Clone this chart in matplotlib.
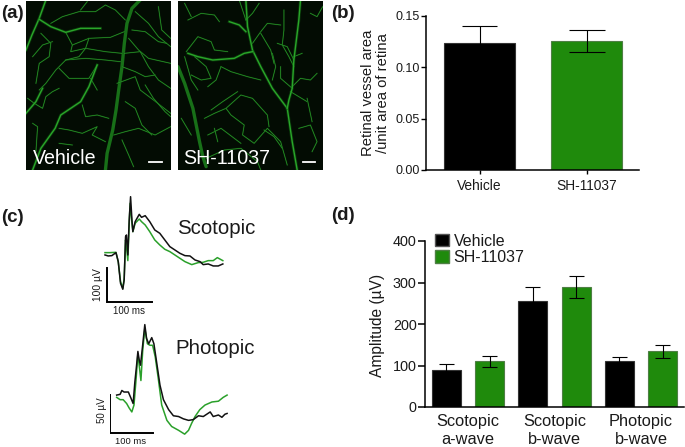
import matplotlib
matplotlib.use('Agg')
import matplotlib.pyplot as plt
from matplotlib.patches import Patch

plt.rcParams['font.family'] = ['Liberation Sans', 'DejaVu Sans']

W, H = 685, 447
GREEN = '#1f8a0c'
TXT = '#1a1a1a'

# (b) vessel area
b_names = ['Vehicle', 'SH-11037']
b_vals = [0.123, 0.1255]
b_upper = [0.140, 0.136]
b_lower = [0.106, 0.115]
b_ticks = [0.00, 0.05, 0.10, 0.15]

# (d) erg amplitudes
d_groups = ['Scotopic\na-wave', 'Scotopic\nb-wave', 'Photopic\nb-wave']
d_vehicle = [90, 255, 111]
d_vehicle_up = [103, 288, 120]
d_vehicle_lo = [77, 222, 102]
d_sh = [110, 290, 134]
d_sh_up = [122, 316, 149]
d_sh_lo = [96, 263, 117]
d_ticks = [0, 100, 200, 300, 400]

# (c) scotopic traces, ms / uV
sco_t_k = [0, 7, 15, 24, 29, 34, 39, 42, 45, 47, 50, 53, 56, 59, 61, 66, 75, 80, 88, 98, 109, 120, 131, 142, 153, 164, 175, 186, 197, 208, 215, 226, 237, 248, 258]
sco_v_k = [-5, -8, -7, 2, -25, -90, -108, -80, 50, 55, -5, 100, 170, 100, 65, 95, 117, 108, 113, 95, 70, 60, 40, 20, 10, 0, -7, -8, -20, -25, -34, -32, -38, -38, -32]
sco_t_g = [0, 11, 24, 29, 34, 39, 42, 45, 47, 50, 53, 55, 59, 61, 66, 75, 80, 88, 98, 109, 120, 131, 142, 153, 164, 175, 190, 204, 215, 226, 237, 246, 258]
sco_v_g = [2, 2, 3, -25, -85, -105, -75, 40, 20, -22, 90, 150, 90, 65, 90, 103, 95, 85, 65, 40, 25, 12, 5, -5, -15, -25, -34, -28, -27, -22, -22, -13, -22]

# (c) photopic traces
pho_t_k = [0, 8, 12, 17, 27, 33, 38, 42, 46, 49, 52, 55, 60, 65, 69, 74, 81, 86, 92, 100, 108, 120, 131, 143, 154, 166, 177, 189, 200, 216, 223, 235, 243, 250, 255]
pho_v_k = [26, 27, 32, 30, 30, 22, 15, 43, 65, 83, 72, 65, 91, 118, 100, 93, 101, 93, 70, 39, 20, 7, -1, -2, -5, -7, -6, -1, -2, 4, -2, 0, -3, 1, 2]
pho_t_g = [0, 8, 15, 23, 29, 35, 40, 45, 49, 52, 56, 60, 65, 71, 77, 83, 89, 96, 104, 116, 127, 143, 157, 166, 173, 181, 192, 204, 220, 235, 246, 255]
pho_v_g = [23, 20, 20, 15, 9, 4, 13, 48, 80, 65, 45, 83, 113, 93, 91, 91, 76, 48, 13, -7, -15, -20, -25, -20, -11, -2, 7, 13, 17, 18, 23, 26]

veh_dim = [[(345, 0), (320, 25), (305, 70), (297, 130), (290, 200), (280, 270), (272, 330), (262, 390), (245, 460), (240, 510)]]
veh_main = [[(60, 0), (40, 55), (18, 105), (0, 150)],
            [(40, 58), (75, 80), (120, 97), (165, 85), (225, 85)],
            [(0, 340), (30, 305), (50, 265)],
            [(20, 510), (45, 445), (88, 385), (105, 345), (165, 305), (190, 260), (215, 195)]]
veh_thin = [[(120, 97), (140, 135), (190, 115), (255, 112), (297, 95)],
            [(75, 70), (110, 50), (160, 35), (210, 35), (240, 15), (270, 30), (300, 60)],
            [(165, 30), (185, 5)],
            [(140, 135), (135, 155), (180, 145), (240, 155), (290, 160)],
            [(120, 180), (180, 175), (240, 180), (285, 185)],
            [(190, 115), (180, 145), (160, 170), (120, 180), (90, 210), (60, 250), (40, 270)],
            [(20, 170), (50, 135), (80, 125)],
            [(45, 100), (75, 130), (70, 170), (40, 190), (30, 250)],
            [(100, 205), (130, 235), (190, 235), (215, 195)],
            [(195, 235), (215, 270)],
            [(330, 35), (370, 70), (400, 110), (437, 140)],
            [(320, 90), (360, 95), (400, 125), (425, 130)],
            [(310, 115), (340, 150), (370, 175), (437, 190)],
            [(297, 160), (345, 155), (370, 200), (400, 240), (437, 265)],
            [(290, 200), (330, 215), (360, 230), (390, 225)],
            [(400, 20), (410, 90), (437, 115)],
            [(275, 250), (330, 230), (345, 270), (385, 300), (437, 340)],
            [(20, 370), (35, 380), (30, 455)],
            [(5, 295), (25, 310), (50, 325), (60, 290), (80, 275), (100, 265)],
            [(100, 385), (130, 390), (170, 400), (215, 380), (200, 405), (240, 425)],
            [(170, 315), (180, 350), (215, 345), (250, 355)],
            [(265, 405), (300, 395), (340, 385), (390, 405), (437, 380)],
            [(300, 305), (330, 325), (350, 375), (380, 405)],
            [(290, 420), (310, 465), (325, 500)],
            [(360, 255), (385, 295), (420, 335), (437, 350)],
            [(100, 430), (140, 435)]]

sh_dim = [[(0, 200), (20, 250), (45, 325), (65, 425), (75, 470), (85, 500)]]
sh_main = [[(205, 0), (210, 80), (225, 150), (250, 200), (285, 265), (330, 325), (345, 425), (360, 510)],
           [(225, 155), (200, 160), (170, 175), (105, 180), (60, 170), (30, 160)],
           [(370, 0), (365, 60), (350, 180), (345, 265), (335, 300), (330, 325)],
           [(155, 65), (185, 75), (205, 95)]]
sh_thin = [[(225, 130), (250, 95), (270, 70), (310, 75)],
           [(205, 60), (225, 40), (245, 10)],
           [(185, 0), (205, 60)],
           [(30, 60), (70, 40), (110, 45), (125, 65)],
           [(25, 155), (60, 110), (100, 125), (110, 150), (150, 155)],
           [(50, 170), (85, 200), (100, 235), (70, 240), (40, 225)],
           [(20, 170), (40, 240), (60, 270)],
           [(320, 30), (320, 90), (315, 135), (335, 170), (350, 200)],
           [(300, 130), (330, 140), (350, 180)],
           [(375, 160), (350, 170)],
           [(345, 260), (370, 235), (400, 240), (420, 220)],
           [(310, 200), (310, 235), (345, 265)],
           [(285, 160), (295, 200), (285, 240)],
           [(250, 100), (280, 150), (290, 190)],
           [(130, 200), (160, 215), (210, 230), (250, 240)],
           [(400, 40), (420, 50), (437, 20)],
           [(90, 260), (115, 240), (130, 200)],
           [(20, 10), (40, 50)],
           [(80, 355), (110, 340), (145, 325), (190, 285), (225, 295), (270, 345), (275, 380)],
           [(145, 325), (160, 345), (200, 375), (195, 405), (230, 430), (270, 385), (310, 425), (330, 495)],
           [(260, 390), (290, 410), (315, 445)],
           [(90, 405), (130, 385), (170, 415), (190, 430)],
           [(85, 475), (140, 450), (190, 445), (240, 485), (250, 510)],
           [(365, 385), (400, 375), (420, 425), (405, 455)],
           [(390, 295), (405, 365)],
           [(340, 275), (390, 305)],
           [(10, 355), (40, 405)],
           [(110, 385), (120, 425)],
           [(180, 275), (135, 305), (100, 330)]]


def px_axes(x0, y0, x1, y1):
    return fig.add_axes([x0 / W, 1 - y1 / H, (x1 - x0) / W, (y1 - y0) / H])


fig = plt.figure(figsize=(W / 100, H / 100), dpi=100, facecolor='white')
overlay = px_axes(0, 0, W, H)
overlay.set_xlim(0, W)
overlay.set_ylim(H, 0)
overlay.axis('off')
overlay.set_zorder(10)


def micrograph(x0, x1, dim, main, thin, label, label_x, bar):
    ax = px_axes(x0, 1, x1, 170)
    ax.set_facecolor('#030c03')
    ax.set_xlim(0, 438)
    ax.set_ylim(510, 3)
    ax.set_xticks([])
    ax.set_yticks([])
    for s in ax.spines.values():
        s.set_visible(False)
    for pts in dim:
        ax.plot(*zip(*pts), color='#187018', lw=2.4, solid_capstyle='round')
    for pts in thin:
        ax.plot(*zip(*pts), color='#0c4a0c', lw=1.1, alpha=.5)
        ax.plot(*zip(*pts), color='#2a9a2a', lw=.5)
    for pts in main:
        ax.plot(*zip(*pts), color='#0f5a0f', lw=2.2, alpha=.5)
        ax.plot(*zip(*pts), color='#2aa62a', lw=1)
    ax.plot(bar, [487, 487], color='white', lw=1.3)
    overlay.text(label_x, 159, label, color='white', fontsize=14.1, va='center', ha='left')


micrograph(26, 171, veh_dim, veh_main, veh_thin, 'Vehicle', 33, [372, 410])
micrograph(178, 323, sh_dim, sh_main, sh_thin, 'SH-11037', 183, [377, 415])

for lab, x, y in [('(a)', 1, 13), ('(b)', 331, 13), ('(c)', 1, 217), ('(d)', 331, 216)]:
    overlay.text(x, y, lab, fontsize=13.5, fontweight='bold', color=TXT, va='center', ha='left')


def style_bar_axes(ax):
    ax.spines['top'].set_visible(False)
    ax.spines['right'].set_visible(False)
    ax.spines['left'].set_linewidth(1.1)
    ax.spines['bottom'].set_linewidth(1.1)
    ax.set_facecolor('none')


# panel b
ax_b = px_axes(426, 15.7, 639, 170)
xs = [0, 1]
ax_b.bar(xs, b_vals, width=.664, color=['black', GREEN], edgecolor=['#333333', '#4f7f45'], linewidth=.8)
for x, hi, lo in zip(xs, b_upper, b_lower):
    ax_b.vlines(x, lo, hi, color='black', lw=.8)
    ax_b.hlines([lo, hi], x - .168, x + .168, color='black', lw=.8)
ax_b.set_xlim(-.5, 1.49)
ax_b.set_ylim(0, .15)
ax_b.set_yticks(b_ticks)
ax_b.set_yticklabels([f'{t:.2f}' for t in b_ticks], fontsize=9, color=TXT)
ax_b.set_xticks(xs)
ax_b.set_xticklabels(b_names, fontsize=9.9, color=TXT)
ax_b.tick_params(axis='y', length=3.4, width=1, pad=1)
ax_b.tick_params(axis='x', length=3, width=1, pad=3.5)
style_bar_axes(ax_b)
overlay.text(368, 93, 'Retinal vessel area', rotation=90, fontsize=10.6, color=TXT, ha='center', va='center')
overlay.text(383, 93, '/unit area of retina', rotation=90, fontsize=10.6, color=TXT, ha='center', va='center')

# panel d
ax_d = px_axes(425, 241, 684, 407)
off = .25
for i in range(3):
    for x, v, hi, lo, col, ec in [(i - off, d_vehicle[i], d_vehicle_up[i], d_vehicle_lo[i], 'black', '#333333'),
                                  (i + off, d_sh[i], d_sh_up[i], d_sh_lo[i], GREEN, '#4f7f45')]:
        ax_d.bar(x, v, width=.335, color=col, edgecolor=ec, linewidth=.8)
        ax_d.vlines(x, lo, hi, color='black', lw=.8)
        ax_d.hlines([lo, hi], x - .087, x + .087, color='black', lw=.8)
ax_d.set_xlim(-.497, 2.497)
ax_d.set_ylim(0, 400)
ax_d.set_yticks(d_ticks)
ax_d.set_yticklabels(d_ticks, fontsize=10.4, color=TXT)
ax_d.set_xticks(range(3))
ax_d.set_xticklabels(d_groups, fontsize=11.8, color=TXT, linespacing=1.25)
ax_d.tick_params(axis='y', length=5, width=1.1, pad=1)
ax_d.tick_params(axis='x', length=0, pad=5)
style_bar_axes(ax_d)
overlay.text(378, 325, 'Amplitude (µV)', rotation=90, fontsize=11.2, color=TXT, ha='center', va='center')
handles = [Patch(facecolor='black', edgecolor='#555555', label='Vehicle'),
           Patch(facecolor=GREEN, edgecolor='#4f7f45', label='SH-11037')]
fig.legend(handles=handles, loc='upper left', bbox_to_anchor=(434.7 / W, 1 - 233.5 / H), frameon=False,
           fontsize=11.5, handlelength=.9, handleheight=.84, handletextpad=.28, labelspacing=.1,
           borderpad=0, borderaxespad=0, labelcolor=TXT)


def trace_axes(x0, y0, x1, y1, ox, oy, px_ms, px_uv):
    ax = px_axes(x0, y0, x1, y1)
    ax.set_xlim((x0 - ox) / px_ms, (x1 - ox) / px_ms)
    ax.set_ylim((oy - y1) / px_uv, (oy - y0) / px_uv)
    ax.axis('off')
    return ax


# panel c
ax_s = trace_axes(100, 190, 235, 310, 105, 253.3, .4567, .333)
ax_s.plot(sco_t_g, sco_v_g, color='#2aa02a', lw=1.1)
ax_s.plot(sco_t_k, sco_v_k, color='#111111', lw=1.1)
ax_s.plot([3.6, 3.6, 103.6], [-45, -145, -145], color='black', lw=1.4, solid_joinstyle='miter')

ax_p = trace_axes(110, 315, 235, 440, 116.67, 415, .433, .766)
ax_p.plot(pho_t_g, pho_v_g, color='#2aa02a', lw=1.1)
ax_p.plot(pho_t_k, pho_v_k, color='#111111', lw=1.1)
ax_p.plot([-15.4, -15.4, 84.6], [26, -24, -24], color='black', lw=1.4, solid_joinstyle='miter')

overlay.text(216, 228, 'Scotopic', fontsize=14.7, color=TXT, ha='center', va='center')
overlay.text(215, 348, 'Photopic', fontsize=14.7, color=TXT, ha='center', va='center')
overlay.text(98, 285, '100 µV', rotation=90, fontsize=7.4, color=TXT, ha='center', va='center')
overlay.text(129, 311, '100 ms', fontsize=7, color=TXT, ha='center', va='center')
overlay.text(102, 410, '50 µV', rotation=90, fontsize=7, color=TXT, ha='center', va='center')
overlay.text(131, 441, '100 ms', fontsize=6.8, color=TXT, ha='center', va='center')

fig.savefig('out.png', dpi=100)
